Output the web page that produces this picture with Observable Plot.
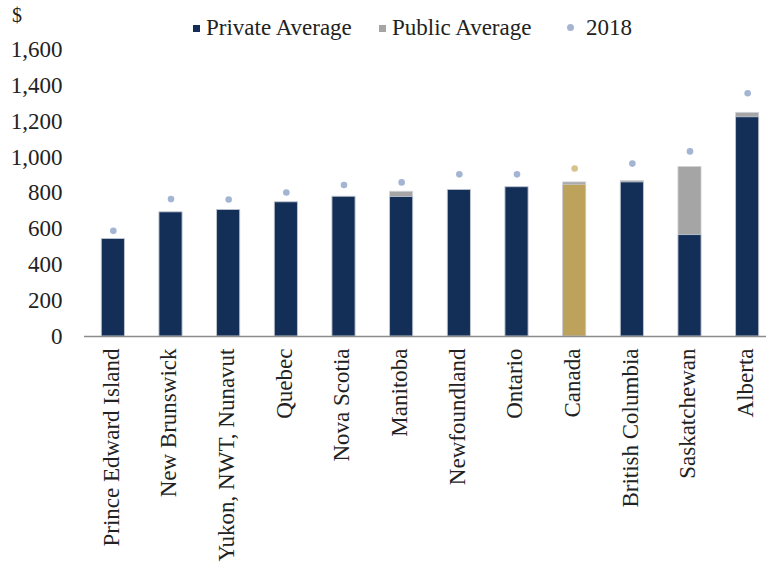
<!DOCTYPE html>
<html>
<head>
<meta charset="utf-8">
<script src="https://cdn.jsdelivr.net/npm/d3@7"></script>
<script src="https://cdn.jsdelivr.net/npm/@observablehq/plot@0.6"></script>
<style>
  html, body { margin: 0; padding: 0; background: #fff; }
  #wrap { position: relative; width: 766px; height: 571px; font-family: "Liberation Serif", "DejaVu Serif", serif; color: #222; }
</style>
</head>
<body>
<div id="wrap"></div>
<script>
const categories = ["Prince Edward Island","New Brunswick","Yukon, NWT, Nunavut","Quebec","Nova Scotia","Manitoba","Newfoundland","Ontario","Canada","British Columbia","Saskatchewan","Alberta"];
const privateAvg = [543, 692, 705, 748, 779, 778, 817, 832, 846, 859, 565, 1222];
const publicAvg  = [543, 692, 705, 748, 779, 807, 817, 832, 859, 867, 945, 1247];
const y2018      = [589, 766, 764, 803, 845, 859, 904, 904, 937, 964, 1032, 1356];
const yTicks = [0, 200, 400, 600, 800, 1000, 1200, 1400, 1600];

const NAVY = "#132f57", GRAY = "#a5a5a5", GOLD = "#bca25b", DOT = "#a4b5d4", DOTGOLD = "#d8c28c";

const rows = categories.map((c, i) => ({cat: c, priv: privateAvg[i], pub: publicAvg[i], y18: y2018[i], canada: c === "Canada"}));

const FS = 23;
const chart = Plot.plot({
  width: 766,
  height: 571,
  marginLeft: 84,
  marginRight: 0,
  marginTop: 49,
  marginBottom: 235,
  style: {fontFamily: "Liberation Serif, DejaVu Serif, serif", fontSize: FS + "px", color: "#222", background: "transparent", overflow: "visible"},
  x: {domain: categories, range: [84, 776], paddingInner: 0.6, paddingOuter: 0.3, round: false},
  y: {domain: [0, 1600], range: [336, 49]},
  marks: [
    Plot.barY(rows, {x: "cat", y: "pub", fill: GRAY, stroke: "#d0d3d8", strokeWidth: 0.8}),
    Plot.barY(rows, {x: "cat", y: "priv", fill: d => d.canada ? GOLD : NAVY, stroke: "#c9ced8", strokeWidth: 0.8}),
    Plot.dot(rows, {x: "cat", y: "y18", r: 3.3, fill: d => d.canada ? DOTGOLD : DOT, stroke: "none"}),
    Plot.ruleY([0], {stroke: "#8c8c8c", strokeWidth: 1.6}),
    Plot.axisY({ticks: yTicks, tickSize: 0, tickPadding: 22, tickFormat: d3.format(","), label: null, fontSize: FS, fill: "#222"}),
    Plot.axisX({tickSize: 0, tickPadding: 12, tickRotate: -90, dx: -2, label: null, fontSize: FS, fill: "#222"})
  ]
});
const wrap = document.getElementById("wrap");
chart.style.position = "absolute";
chart.style.left = "0px";
chart.style.top = "0px";
wrap.appendChild(chart);

function add(html, css) {
  const el = document.createElement("div");
  el.innerHTML = html;
  Object.assign(el.style, {position: "absolute", whiteSpace: "nowrap", lineHeight: "1"}, css);
  wrap.appendChild(el);
  return el;
}
// $ unit label
add("$", {left: "12px", top: "5px", fontSize: "20px"});
// legend
add("", {left: "193px", top: "25px", width: "7px", height: "7px", background: NAVY});
add("Private Average", {left: "206px", top: "16px", fontSize: FS + "px"});
add("", {left: "379px", top: "25px", width: "7px", height: "7px", background: GRAY});
add("Public Average", {left: "392px", top: "16px", fontSize: FS + "px"});
add("", {left: "567px", top: "24px", width: "7px", height: "7px", borderRadius: "50%", background: DOT});
add("2018", {left: "586px", top: "16px", fontSize: FS + "px"});
</script>
</body>
</html>
